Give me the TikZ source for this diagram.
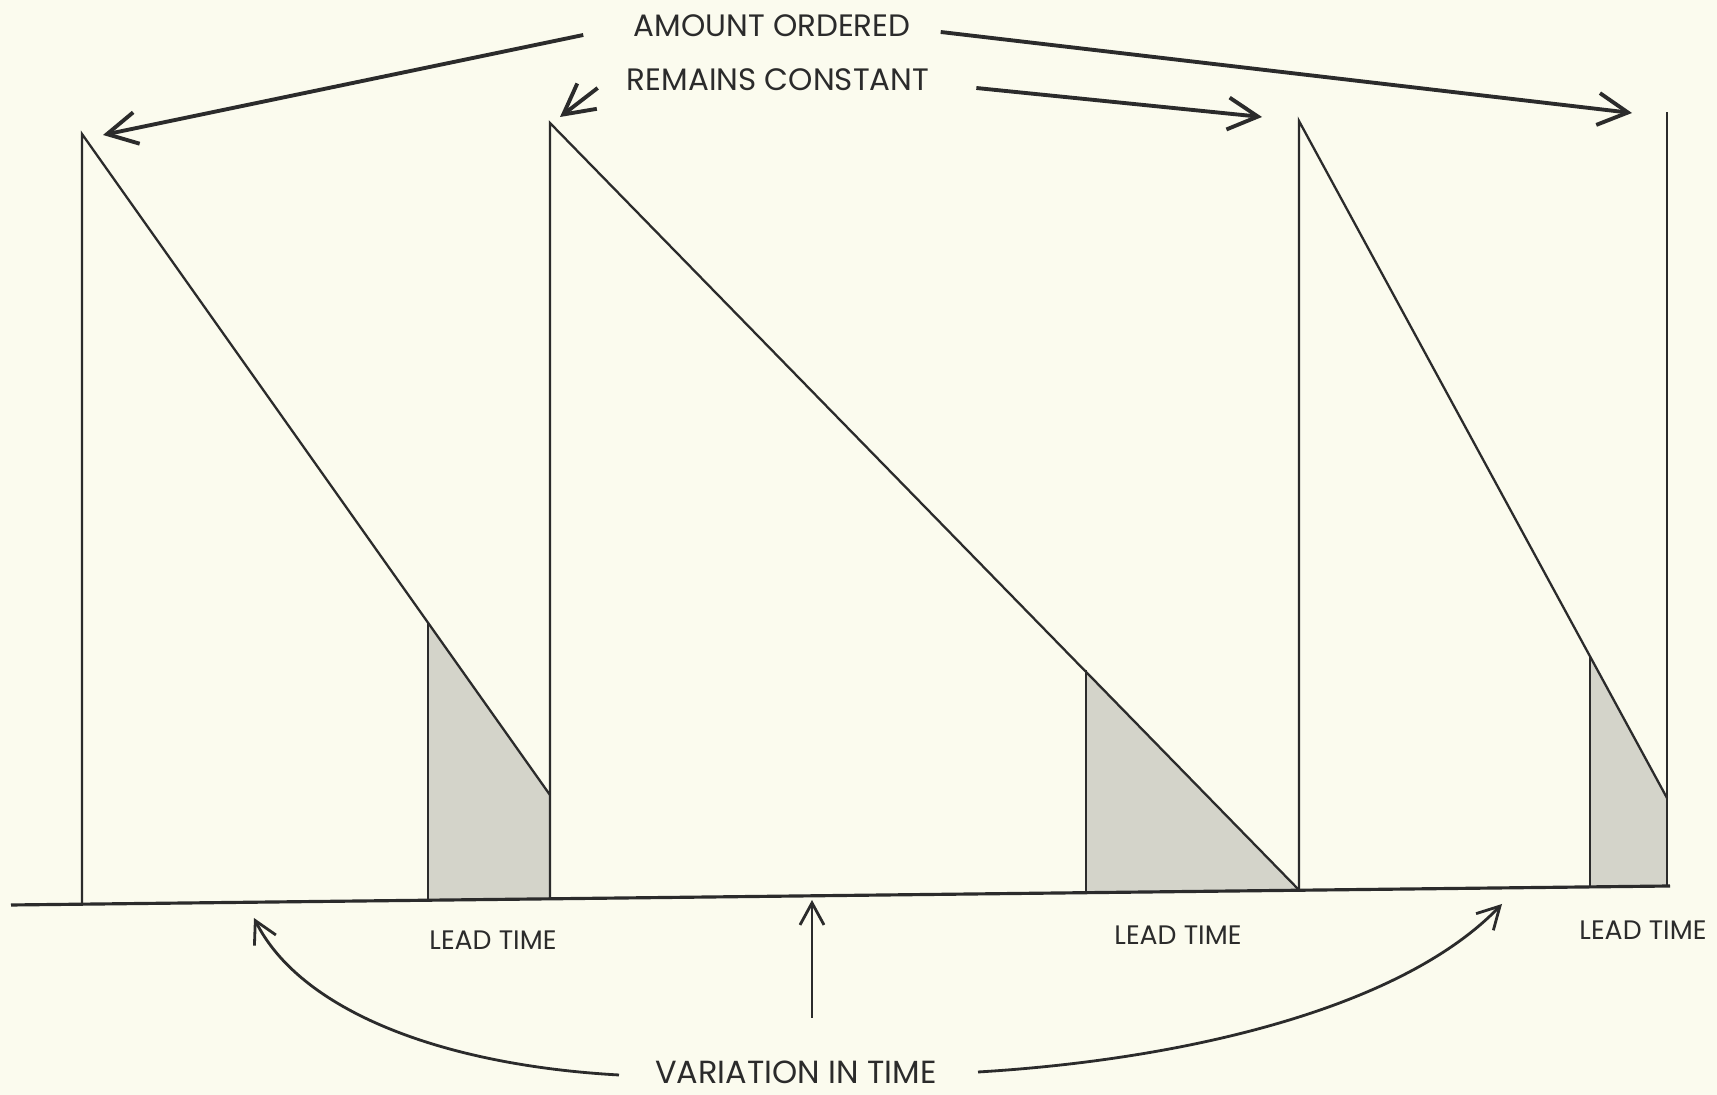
\documentclass[tikz,border=0pt]{standalone}
\usepackage{fontspec}
\setmainfont{Poppins}
\usetikzlibrary{positioning,arrows.meta}
\definecolor{paper}{HTML}{FBFBEE}
\definecolor{ink}{HTML}{2b2b2b}
\definecolor{screen}{HTML}{D4D4CA}

\begin{document}
\begin{tikzpicture}[x=0.01cm,y=-0.01cm,
  stock/.style={ink,line width=0.65pt},
  floor/.style={ink,line width=0.9pt},
  callout/.style={ink,line width=1.1pt,-{Straight Barb[length=3mm,width=3.2mm]}},
  swing/.style={ink,line width=0.8pt,-{Straight Barb[length=2.2mm,width=2.4mm]}},
  caption/.style={text=ink,font=\fontsize{8.8}{10}\selectfont,inner sep=1pt},
  leadlbl/.style={text=ink,font=\fontsize{7.6}{9}\selectfont,inner sep=1pt}]
  \fill[paper] (0,0) rectangle (1717,1095);

  % peaks of each order
  \coordinate (top1) at (82,134);
  \coordinate (top2) at (550,123);
  \coordinate (top3) at (1299,121);
  \coordinate (top4) at (1667,112);

  % lead time blocks
  \fill[screen] (428,900) -- (428,623) -- (550,795) -- (550,899) -- cycle;
  \fill[screen] (1086,893) -- (1086,670) -- (1299,890) -- cycle;
  \fill[screen] (1590,887) -- (1590,656) -- (1667,798) -- (1667,886) -- cycle;

  \draw[floor] (11,905) -- (1670,886);
  \draw[stock] (82,904) -- (top1) -- (550,795);
  \draw[stock] (550,899) -- (top2) -- (1299,890);
  \draw[stock] (1299,890) -- (top3) -- (1667,798);
  \draw[stock] (1667,886) -- (top4);
  \draw[stock] (428,900) -- (428,623);
  \draw[stock] (1086,893) -- (1086,670);
  \draw[stock] (1590,887) -- (1590,656);

  \foreach \x/\y [count=\i] in {493/940,1178/935,1643/930}
    \node[leadlbl] (lead\i) at (\x,\y) {LEAD TIME};

  \node[caption] (ordered) at (772,26) {AMOUNT ORDERED};
  \node[caption] (constant) at (778,80) {REMAINS CONSTANT};
  \node[caption,font=\fontsize{9.1}{11}\selectfont] (variation) at (796,1072) {VARIATION IN TIME};

  \coordinate (tip1) at (103,135);
  \coordinate (tip2) at (560,117);
  \coordinate (tip3) at (1262,117);
  \coordinate (tip4) at (1632,113);
  \draw[callout] ([xshift=-4.6mm,yshift=-0.9mm]ordered.west) -- (tip1);
  \draw[callout] ([xshift=2.6mm,yshift=-0.6mm]ordered.east) -- (tip4);
  \draw[callout] ([xshift=-2.5mm,yshift=-0.8mm]constant.west) -- (tip2);
  \draw[callout] ([xshift=4.3mm,yshift=-0.8mm]constant.east) -- (tip3);

  \coordinate (tip5) at (254,918);
  \coordinate (tip6) at (1502,904);
  \coordinate (tip7) at (812,900);
  \coordinate (foot7) at (812,1018);
  \draw[swing] ([xshift=-3.2mm,yshift=-0.3mm]variation.west) .. controls (440,1065) and (300,1010) .. (tip5);
  \draw[swing] ([xshift=3.7mm]variation.east) .. controls (1180,1060) and (1400,1010) .. (tip6);
  \draw[swing] (foot7) -- (tip7);
\end{tikzpicture}
\end{document}
